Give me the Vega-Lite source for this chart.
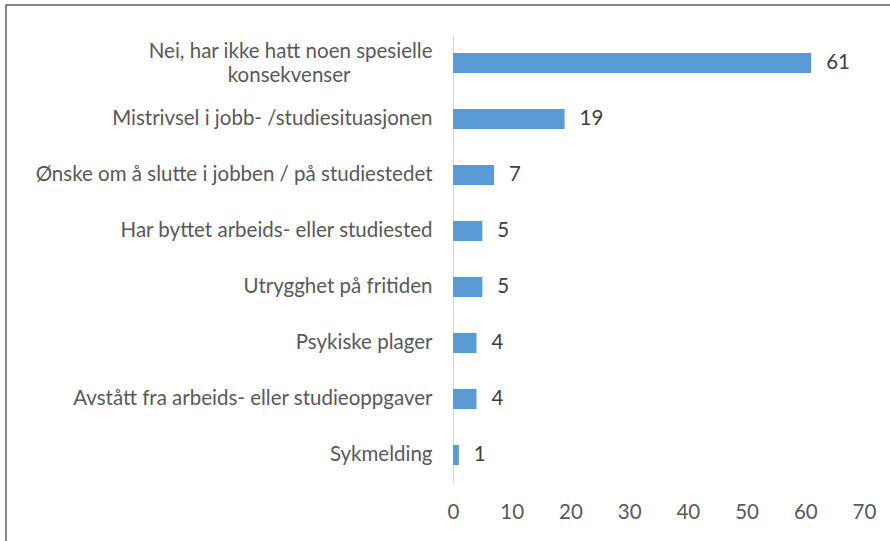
{
  "$schema": "https://vega.github.io/schema/vega-lite/v6.json",
  "width": 890,
  "height": 546,
  "autosize": "none",
  "padding": {"left": 6, "top": 5, "right": -6, "bottom": -10},
  "background": "#ffffff",
  "config": {
    "font": "Lato",
    "view": {"stroke": "#5f5f5f", "strokeWidth": 1.5}
  },
  "data": {
    "values": [
      {"category": "Nei, har ikke hatt noen spesielle|konsekvenser", "value": 61},
      {"category": "Mistrivsel i jobb- /studiesituasjonen", "value": 19},
      {"category": "Ønske om å slutte i jobben / på studiestedet", "value": 7},
      {"category": "Har byttet arbeids- eller studiested", "value": 5},
      {"category": "Utrygghet på fritiden", "value": 5},
      {"category": "Psykiske plager", "value": 4},
      {"category": "Avstått fra arbeids- eller studieoppgaver", "value": 4},
      {"category": "Sykmelding", "value": 1}
    ]
  },
  "encoding": {
    "y": {
      "field": "category",
      "type": "nominal",
      "sort": null,
      "scale": {"range": [30, 478], "paddingInner": 0.64, "paddingOuter": 0.32},
      "axis": {
        "title": null,
        "offset": -447,
        "ticks": false,
        "domainColor": "#d9d9d9",
        "domainWidth": 1,
        "labelPadding": 21,
        "labelFontSize": 20.5,
        "labelColor": "#595959",
        "labelLimit": 0,
        "labelLineHeight": 24,
        "labelOffset": {"condition": {"test": "indexof(datum.value, '|') >= 0", "value": -11}, "value": 0},
        "labelExpr": "indexof(datum.label, '|') >= 0 ? [split(datum.label, '|')[0], split(datum.label, '|')[1] + '\u2002\u2002\u2002\u2002\u2002\u2002\u2002\u2002\u200b'] : datum.label"
      }
    },
    "x": {
      "field": "value",
      "type": "quantitative",
      "scale": {"domain": [0, 70], "range": [447, 858], "nice": false, "zero": true},
      "axis": {
        "title": null,
        "offset": -68,
        "values": [0, 10, 20, 30, 40, 50, 60, 70],
        "grid": false,
        "domain": false,
        "ticks": false,
        "labelFlush": false,
        "labelPadding": 19,
        "labelFontSize": 20.5,
        "labelColor": "#595959"
      }
    }
  },
  "layer": [
    {"mark": {"type": "bar", "color": "#5b9bd5"}},
    {
      "mark": {"type": "text", "align": "left", "baseline": "middle", "dx": 15, "fontSize": 20.5, "color": "#404040"},
      "encoding": {"text": {"field": "value", "type": "quantitative"}}
    }
  ]
}
